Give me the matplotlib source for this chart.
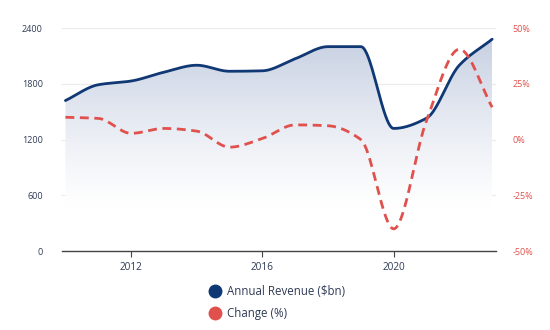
import numpy as np
import matplotlib
matplotlib.use('Agg')
import matplotlib.pyplot as plt
from matplotlib.lines import Line2D
from matplotlib.colors import LinearSegmentedColormap

plt.rcParams['font.family'] = ['Open Sans', 'DejaVu Sans']

years = [2010, 2011, 2012, 2013, 2014, 2015, 2016, 2017, 2018, 2019, 2020, 2021, 2022, 2023]
revenue = [1620, 1790, 1830, 1925, 2000, 1935, 1940, 2070, 2200, 2200, 1320, 1430, 2000, 2280]
change = [10.0, 9.5, 2.8, 5.0, 3.8, -3.4, 0.5, 6.6, 6.2, 0.0, -40.0, 8.5, 40.5, 14.5]

left_ticks = [0, 600, 1200, 1800, 2400]
right_ticks = [-50, -25, 0, 25, 50]
right_labels = ['-50%', '-25%', '0%', '25%', '50%']
x_ticks = [2012, 2016, 2020]

NAVY = '#0f3874'
RED = '#e0514d'


def monotone(x, y, n=40):
    """Monotone cubic (Fritsch-Carlson) curve through the points."""
    x = np.asarray(x, float)
    y = np.asarray(y, float)
    h = np.diff(x)
    d = np.diff(y) / h
    m = np.zeros_like(y)
    m[0], m[-1] = d[0], d[-1]
    for i in range(1, len(y) - 1):
        if d[i - 1] * d[i] <= 0:
            m[i] = 0.0
        else:
            w1 = 2 * h[i] + h[i - 1]
            w2 = h[i] + 2 * h[i - 1]
            m[i] = (w1 + w2) / (w1 / d[i - 1] + w2 / d[i])
    xs, ys = [], []
    for i in range(len(x) - 1):
        t = np.linspace(0, 1, n, endpoint=False)
        h00 = 2 * t**3 - 3 * t**2 + 1
        h10 = t**3 - 2 * t**2 + t
        h01 = -2 * t**3 + 3 * t**2
        h11 = t**3 - t**2
        xs.append(x[i] + t * h[i])
        ys.append(h00 * y[i] + h10 * h[i] * m[i] + h01 * y[i + 1] + h11 * h[i] * m[i + 1])
    xs.append([x[-1]])
    ys.append([y[-1]])
    return np.concatenate(xs), np.concatenate(ys)


fig = plt.figure(figsize=(5.5, 3.3), dpi=100)
ax = fig.add_axes([0.113, 0.239, 0.789, 0.676])
ax2 = ax.twinx()

rx, ry = monotone(years, revenue)
cx, cy = monotone(years, change)

# gradient fill under the revenue line
cmap = LinearSegmentedColormap.from_list('fade', ['#ffffff', '#c3cde0'])
grad = np.linspace(0, 1, 256).reshape(-1, 1) ** 1.2
img = ax.imshow(grad, cmap=cmap, aspect='auto', origin='lower',
                extent=[years[0], years[-1], 450, 2400], zorder=1)
poly = ax.fill_between(rx, ry, 0, color='none', lw=0)
img.set_clip_path(poly.get_paths()[0], transform=ax.transData)

ax.plot(rx, ry, color=NAVY, lw=2.0, zorder=3, solid_capstyle='round')
ax2.plot(cx, cy, color=RED, lw=2.0, ls=(0, (3.2, 2.0)), zorder=3)

ax.set_xlim(2009.9, 2023.12)
ax.set_ylim(0, 2400)
ax2.set_ylim(-50, 50)

for v in left_ticks[1:]:
    ax.axhline(v, color='#ebebeb', lw=0.8, zorder=0)

ax.set_yticks(left_ticks)
ax.set_yticklabels([str(v) for v in left_ticks])
ax2.set_yticks(right_ticks)
ax2.set_yticklabels(right_labels)
ax.set_xticks(x_ticks)
ax.set_xticklabels([str(v) for v in x_ticks])

for s in ['top', 'right', 'left']:
    ax.spines[s].set_visible(False)
    ax2.spines[s].set_visible(False)
ax2.spines['bottom'].set_visible(False)
ax.spines['bottom'].set_color('#444444')
ax.spines['bottom'].set_linewidth(1.0)

ax.tick_params(axis='y', length=0, pad=14, labelsize=6.5, labelcolor='#2e3a55')
ax2.tick_params(axis='y', length=0, pad=12, labelsize=6.5, labelcolor=RED)
ax.tick_params(axis='x', length=4, width=0.8, color='#444444', pad=4,
               labelsize=7.2, labelcolor='#2e3a55')

handles = [
    Line2D([], [], ls='none', marker='o', ms=9, mfc=NAVY, mec=NAVY),
    Line2D([], [], ls='none', marker='o', ms=9, mfc=RED, mec=RED),
]
fig.legend(handles, ['Annual Revenue ($bn)', 'Change (%)'], loc='upper left',
           bbox_to_anchor=(0.378, 0.136), frameon=False, fontsize=8.3,
           labelcolor='#2e3a55', handletextpad=0.5, labelspacing=0.75,
           handlelength=1.2, borderaxespad=0, borderpad=0)

fig.savefig('out.png', dpi=100)
